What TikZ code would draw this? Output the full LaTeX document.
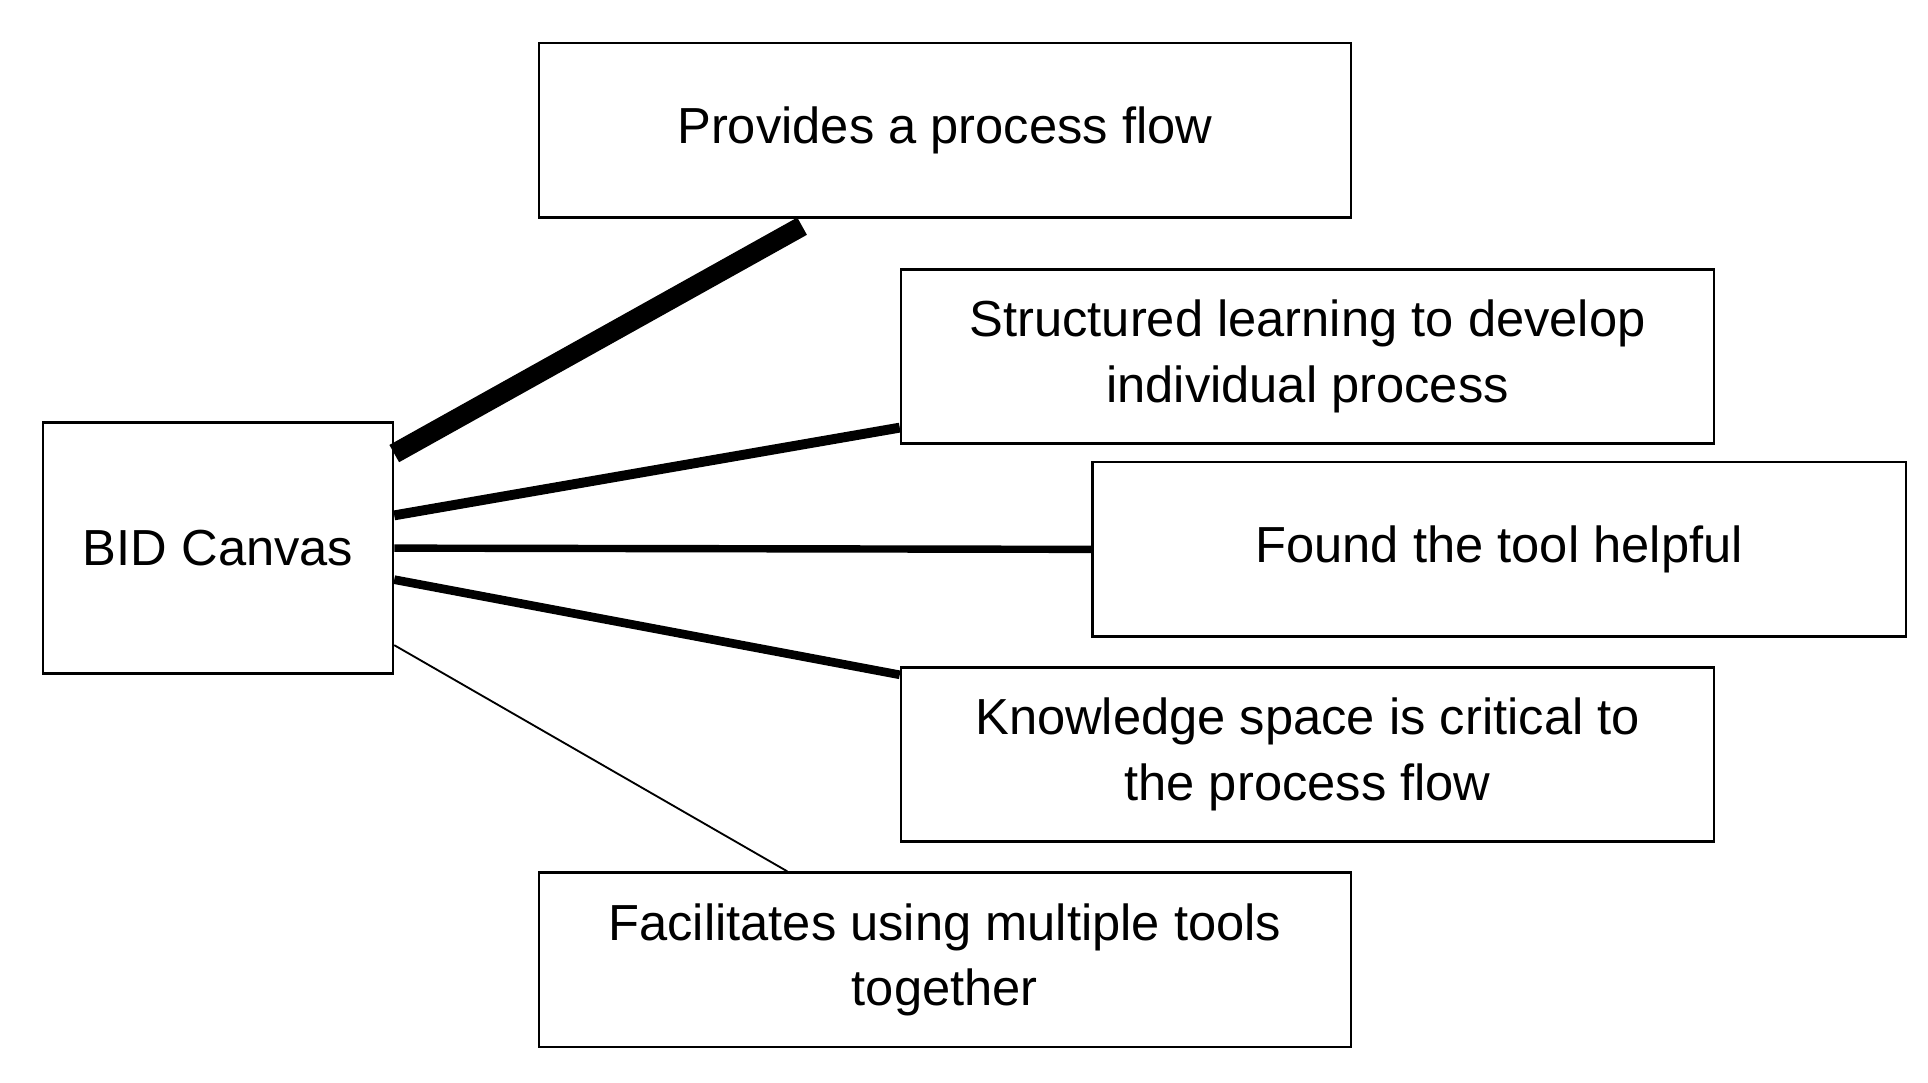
\documentclass[tikz,border=0pt]{standalone}
\usepackage{fontspec}
\setmainfont{Liberation Sans}
\usetikzlibrary{calc}
\begin{document}
\begin{tikzpicture}[x=1pt,y=-1pt,
  box/.style={draw,line width=2pt,inner sep=0pt,align=center,font=\fontsize{41}{53}\selectfont},
  link/.style={line cap=butt}]
\useasboundingbox (0,0) rectangle (1560,876);
\node[box,minimum width=657pt,minimum height=141pt] (p) at (764.5,105.5) {Provides a process flow};
\node[box,minimum width=658pt,minimum height=141pt] (s) at (1058,288.5) {Structured learning to develop\\individual process};
\node[box,minimum width=658pt,minimum height=141pt] (f) at (1213,444.5) {Found the tool helpful};
\node[box,minimum width=658pt,minimum height=141pt] (k) at (1058,610.5) {Knowledge space is critical to\\the process flow};
\node[box,minimum width=657pt,minimum height=141pt] (t) at (764.5,776.5) {Facilitates using multiple tools\\together};
\node[box,minimum width=283pt,minimum height=203pt] (b) at (176.5,443.5) {BID Canvas};
\coordinate (b1) at ($(b.north east)+(0,26)$);
\coordinate (b2) at ($(b.north east)+(0,76)$);
\coordinate (b3) at (b.east);
\coordinate (b4) at ($(b.north east)+(0,128)$);
\coordinate (b5) at ($(b.north east)+(0,181)$);
\coordinate (p1) at ($(p.south west)+(214,6)$);
\coordinate (s1) at ($(s.south west)+(0,-14)$);
\coordinate (k1) at ($(k.north west)+(0,7)$);
\coordinate (t1) at ($(t.north west)+(202,0)$);
\draw[link,line width=16pt] (b1) -- (p1);
\draw[link,line width=8pt] (b2) -- (s1);
\draw[link,line width=6pt] (b3) -- (f.west);
\draw[link,line width=7pt] (b4) -- (k1);
\draw[link,line width=1.5pt] (b5) -- (t1);
\end{tikzpicture}
\end{document}
